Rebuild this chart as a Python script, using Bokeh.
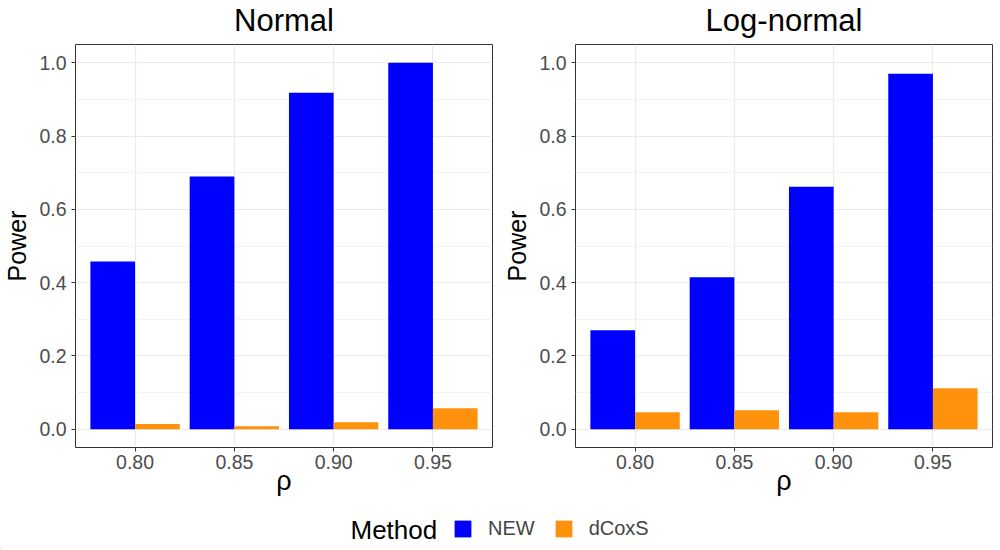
from bokeh.plotting import figure
from bokeh.models import (FactorRange, Range1d, FixedTicker, PrintfTickFormatter,
                          Legend, LegendItem, ColumnDataSource, Label, Title)
from bokeh.transform import dodge
from bokeh.layouts import column, row
from bokeh.embed import file_html
from bokeh.resources import INLINE

# ---- data ----
rho = ["0.80", "0.85", "0.90", "0.95"]
methods = ["NEW", "dCoxS"]
method_colors = ["#0000FF", "#FF920D"]
normal_new = [0.458, 0.690, 0.918, 1.000]
normal_dcoxs = [0.014, 0.008, 0.019, 0.057]
lognormal_new = [0.270, 0.415, 0.662, 0.970]
lognormal_dcoxs = [0.046, 0.052, 0.046, 0.112]
y_ticks = [0.0, 0.2, 0.4, 0.6, 0.8, 1.0]
y_minor = [0.1, 0.3, 0.5, 0.7, 0.9]
titles = ["Normal", "Log-normal"]
legend_title = "Method"

FONT = "Liberation Sans"


def panel(title, new_vals, dcox_vals):
    src = ColumnDataSource(dict(rho=rho, NEW=new_vals, dCoxS=dcox_vals))
    p = figure(x_range=FactorRange(factors=rho, range_padding=0.1,
                                   range_padding_units="absolute"),
               y_range=Range1d(-0.05, 1.05),
               width=500, height=506,
               min_border_left=72, min_border_right=8,
               min_border_top=44, min_border_bottom=59,
               output_backend="svg", toolbar_location=None, title=title)
    p.vbar(x=dodge("rho", -0.225, range=p.x_range), top=methods[0], width=0.45,
           source=src, fill_color=method_colors[0], line_color=None)
    p.vbar(x=dodge("rho", 0.225, range=p.x_range), top=methods[1], width=0.45,
           source=src, fill_color=method_colors[1], line_color=None)

    p.title.text_font = FONT
    p.title.text_font_size = "31px"
    p.title.text_font_style = "normal"
    p.title.text_color = "black"
    p.title.align = "center"
    p.title.standoff = 0
    # thin empty spacer between the frame and the title
    p.add_layout(Title(text=" ", text_font_size="4px", standoff=0), "above")

    p.outline_line_color = "#333333"
    p.outline_line_width = 1

    p.yaxis.ticker = FixedTicker(ticks=y_ticks, minor_ticks=y_minor)
    p.yaxis.formatter = PrintfTickFormatter(format="%.1f")
    p.xaxis.axis_label = "\u03c1"
    p.yaxis.axis_label = "Power"
    for ax in (p.xaxis, p.yaxis):
        ax.axis_line_color = None
        ax.major_tick_line_color = "#333333"
        ax.major_tick_in = 0
        ax.major_tick_out = 4
        ax.minor_tick_line_color = None
        ax.major_label_text_font = FONT
        ax.major_label_text_font_size = "19.5px"
        ax.major_label_text_color = "#4D4D4D"
        ax.axis_label_text_font = FONT
        ax.axis_label_text_font_style = "normal"
        ax.axis_label_text_color = "black"
    p.xaxis.major_label_standoff = 3
    p.xaxis.axis_label_standoff = -6
    p.xaxis.axis_label_text_font_size = "27px"
    p.yaxis.major_label_standoff = 5
    p.yaxis.axis_label_standoff = 5
    p.yaxis.axis_label_text_font_size = "25px"

    p.xgrid.grid_line_color = "#EBEBEB"
    p.xgrid.grid_line_width = 1.2
    p.ygrid.grid_line_color = "#EBEBEB"
    p.ygrid.grid_line_width = 1.2
    p.ygrid.minor_grid_line_color = "#F3F3F3"
    p.ygrid.minor_grid_line_width = 1
    return p


p1 = panel(titles[0], normal_new, normal_dcoxs)
p2 = panel(titles[1], lognormal_new, lognormal_dcoxs)

LG_W, LG_H = 1000, 43
lg = figure(width=LG_W, height=LG_H, x_range=Range1d(0, LG_W), y_range=Range1d(0, LG_H),
            min_border=0, x_axis_type=None, y_axis_type=None,
            output_backend="svg", toolbar_location=None)
lg.outline_line_color = None
lg.grid.visible = False
dummies = [lg.vbar(x=[-100], top=[1], width=1, fill_color=c, line_color=None)
           for c in method_colors]
leg = Legend(items=[LegendItem(label=m, renderers=[r]) for m, r in zip(methods, dummies)],
             orientation="horizontal", location=(452, 9),
             glyph_width=21, glyph_height=21, label_standoff=15, spacing=18,
             padding=0, margin=0, border_line_color=None, background_fill_alpha=0,
             label_text_font=FONT, label_text_font_size="20px", label_height=21)
lg.add_layout(leg)
lg.add_layout(Label(x=350, y=20, text=legend_title, text_font=FONT, text_font_size="26px",
                    text_baseline="middle", text_color="black"))

layout = column(row(p1, p2), lg)
open("out.html", "w").write(file_html(layout, INLINE))
